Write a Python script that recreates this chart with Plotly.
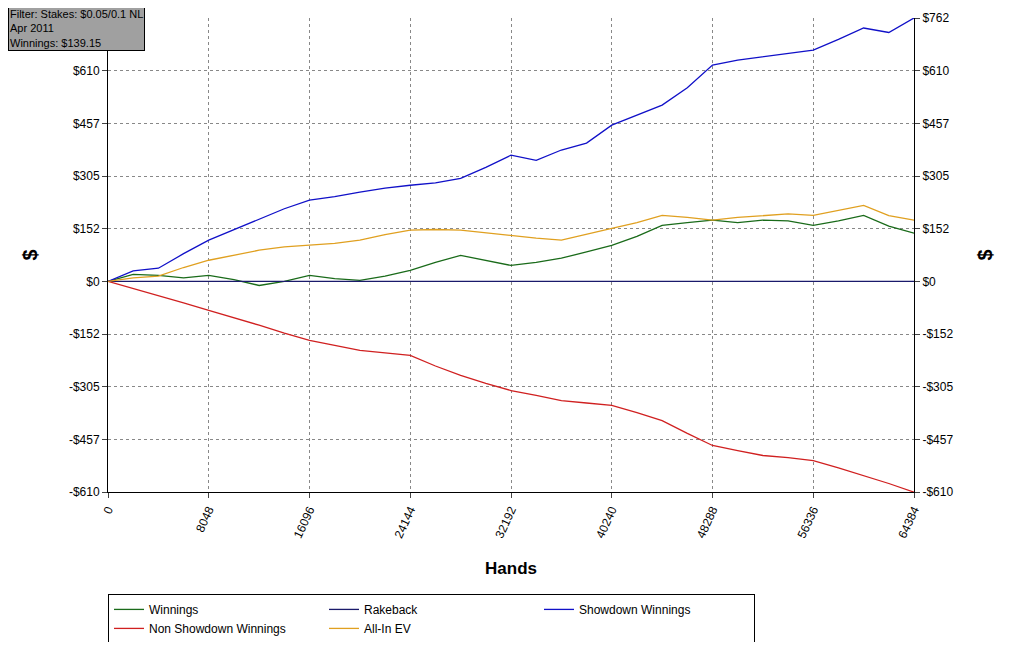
import plotly.graph_objects as go

hands = [0, 2012, 4024, 6036, 8048, 10060, 12072, 14084, 16096, 18108, 20120, 22132, 24144, 26156, 28168, 30180, 32192,
         34204, 36216, 38228, 40240, 42252, 44264, 46276, 48288, 50300, 52312, 54324, 56336, 58348, 60360, 62372, 64384]
showdown = [0, 30, 38, 80, 119, 150, 180, 210, 235, 245, 258, 270, 278, 285, 298, 330, 365, 350, 380, 400, 452, 480, 510, 560,
            626, 640, 650, 660, 669, 700, 733, 720, 762]
allin = [0, 10, 15, 40, 61, 75, 90, 100, 104, 110, 119, 135, 148, 150, 148, 140, 133, 125, 119, 135, 153, 170, 191, 185,
         177, 185, 191, 195, 191, 205, 220, 190, 177]
winnings = [0, 20, 17, 10, 17, 5, -12, 0, 17, 8, 3, 15, 32, 55, 75, 60, 46, 55, 67, 85, 104, 130, 162, 170,
            177, 170, 177, 175, 162, 175, 191, 160, 139.15]
nonsd = [0, -20, -41, -62, -84, -105, -127, -150, -171, -185, -200, -207, -214, -245, -272, -295, -316, -330, -345, -352,
         -359, -380, -403, -440, -475, -490, -504, -510, -519, -540, -562, -585, -610]
rakeback = [0] * len(hands)

ytick_vals = [-609.6, -457.2, -304.8, -152.4, 0, 152.4, 304.8, 457.2, 609.6, 762]
ytick_text = ["-$610", "-$457", "-$305", "-$152", "$0", "$152", "$305", "$457", "$610", "$762"]
xtick_vals = [0, 8048, 16096, 24144, 32192, 40240, 48288, 56336, 64384]
xtick_text = [str(v) for v in xtick_vals]

fig = go.Figure()
fig.add_trace(go.Scatter(x=hands, y=winnings, name="Winnings", mode="lines", line=dict(color="#1a6b1a", width=1.3)))
fig.add_trace(go.Scatter(x=hands, y=rakeback, name="Rakeback", mode="lines", line=dict(color="#1a1a6b", width=1.3)))
fig.add_trace(go.Scatter(x=hands, y=showdown, name="Showdown Winnings", mode="lines", line=dict(color="#1010c8", width=1.3)))
fig.add_trace(go.Scatter(x=hands, y=nonsd, name="Non Showdown Winnings", mode="lines", line=dict(color="#d02020", width=1.3)))
fig.add_trace(go.Scatter(x=hands, y=allin, name="All-In EV", mode="lines", line=dict(color="#e0a020", width=1.3)))
fig.add_trace(go.Scatter(x=hands, y=rakeback, yaxis="y2", showlegend=False, mode="lines",
                         line=dict(color="rgba(0,0,0,0)"), hoverinfo="skip"))

axfont = dict(family="Arial", size=12, color="black")
fig.update_layout(
    width=1007, height=634, paper_bgcolor="white", plot_bgcolor="white",
    margin=dict(l=100, r=101, t=10, b=150, autoexpand=False),
    font=axfont,
    xaxis=dict(range=[0, 64384], tickvals=xtick_vals, ticktext=xtick_text, tickangle=-65, showgrid=True, gridcolor="#888",
               griddash="dot", showline=True, linecolor="black", ticks="outside", ticklen=5, zeroline=False,
               title=dict(text="<b>Hands</b>", font=dict(size=17, family="Arial"), standoff=22)),
    yaxis=dict(range=[-609.6, 762], tickvals=ytick_vals, ticktext=ytick_text, showgrid=True, gridcolor="#888",
               griddash="dot", showline=True, linecolor="black", ticks="outside", ticklen=5, zeroline=False,
               title=dict(text="<b>$</b>", font=dict(size=20, family="Arial"), standoff=25)),
    yaxis2=dict(range=[-609.6, 762], tickvals=ytick_vals, ticktext=ytick_text, overlaying="y",
                side="right", showgrid=False, showline=True, linecolor="black", ticks="outside", ticklen=5,
                zeroline=False, title=dict(text="<b>$</b>", font=dict(size=20, family="Arial"), standoff=25)),
    legend=dict(orientation="h", x=0.0, xanchor="left", y=-0.215, yanchor="top", entrywidth=170,
                bordercolor="black", borderwidth=1, font=dict(size=12, family="Arial"), tracegroupgap=0),
    showlegend=True,
)
fig.add_annotation(xref="paper", yref="paper", x=-0.124, y=1.025, xanchor="left", yanchor="top",
                   text="Filter: Stakes: $0.05/0.1 NL<br>Apr 2011<br>Winnings: $139.15", align="left",
                   showarrow=False, bgcolor="#a0a0a0", bordercolor="black", borderwidth=1,
                   font=dict(size=11, family="Arial", color="black"))
fig.write_html("out.html")
